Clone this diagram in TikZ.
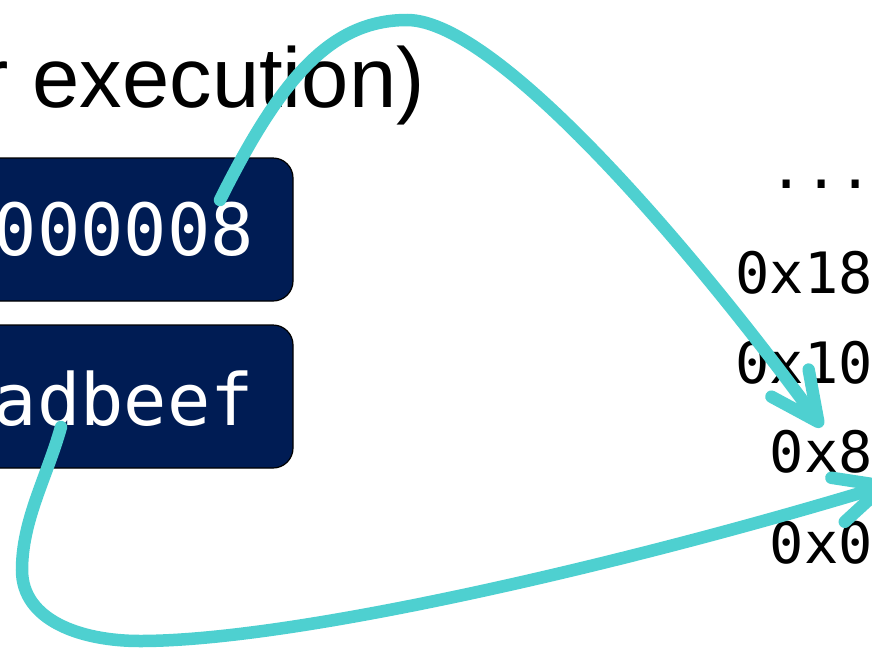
\documentclass[tikz,border=0pt]{standalone}
\usepackage{fontspec}
\setmainfont{Liberation Sans}
\setmonofont{DejaVu Sans Mono}
\usetikzlibrary{arrows.meta}
\definecolor{regnavy}{RGB}{0,28,84}
\definecolor{linkteal}{RGB}{78,208,208}
\begin{document}
\begin{tikzpicture}[x=1pt,y=-1pt,
  regbox/.style={draw=black, line width=1.2pt, fill=regnavy, rounded corners=20pt,
    minimum width=360pt, minimum height=143pt, inner sep=0pt},
  regtext/.style={font=\fontsize{72}{80}\selectfont\ttfamily, text=white,
    anchor=base east, inner sep=0pt},
  addr/.style={font=\fontsize{57}{64}\selectfont\ttfamily, anchor=base east, inner sep=0pt},
  ptr/.style={draw=linkteal, line width=12.5pt, line cap=round,
    -{Straight Barb[length=48pt, width=46pt, round]}}]
\useasboundingbox (0,0) rectangle (872,648);
\clip (0,0) rectangle (872,648);

% heading
\node[font=\fontsize{85}{90}\selectfont, anchor=base east, inner sep=0pt] (title) at (425,107) {r execution)};

% registers
\node[regbox] (reg1) at (113,229.5) {};
\node[regbox] (reg2) at (113,396.5) {};
\node[regtext] (val1) at (254,255) {0x00000008};
\node[regtext] (val2) at (254,425) {0xdeadbeef};

% memory addresses
\node[addr] (dots) at (873,188) {...};
\node[addr] (a18) at (873,293) {0x18};
\node[addr] (a10) at (873,383) {0x10};
\node[addr] (a8)  at (873,472) {0x8};
\node[addr] (a0)  at (873,563) {0x0};

% pointer ends
\coordinate (s1) at (220,200);
\coordinate (t1) at (822,427);
\coordinate (s2) at (61,427);
\coordinate (t2) at (890,484);

\draw[ptr] (s1) .. controls (280,80) and (330,20) .. (407,20)
  .. controls (500,20) and (704,265) .. (t1);
\draw[ptr] (s2) .. controls (47,477) and (22,520) .. (22,570)
  .. controls (22,620) and (80,641) .. (140,641)
  .. controls (300,641) and (640,560) .. (t2);
\end{tikzpicture}
\end{document}
